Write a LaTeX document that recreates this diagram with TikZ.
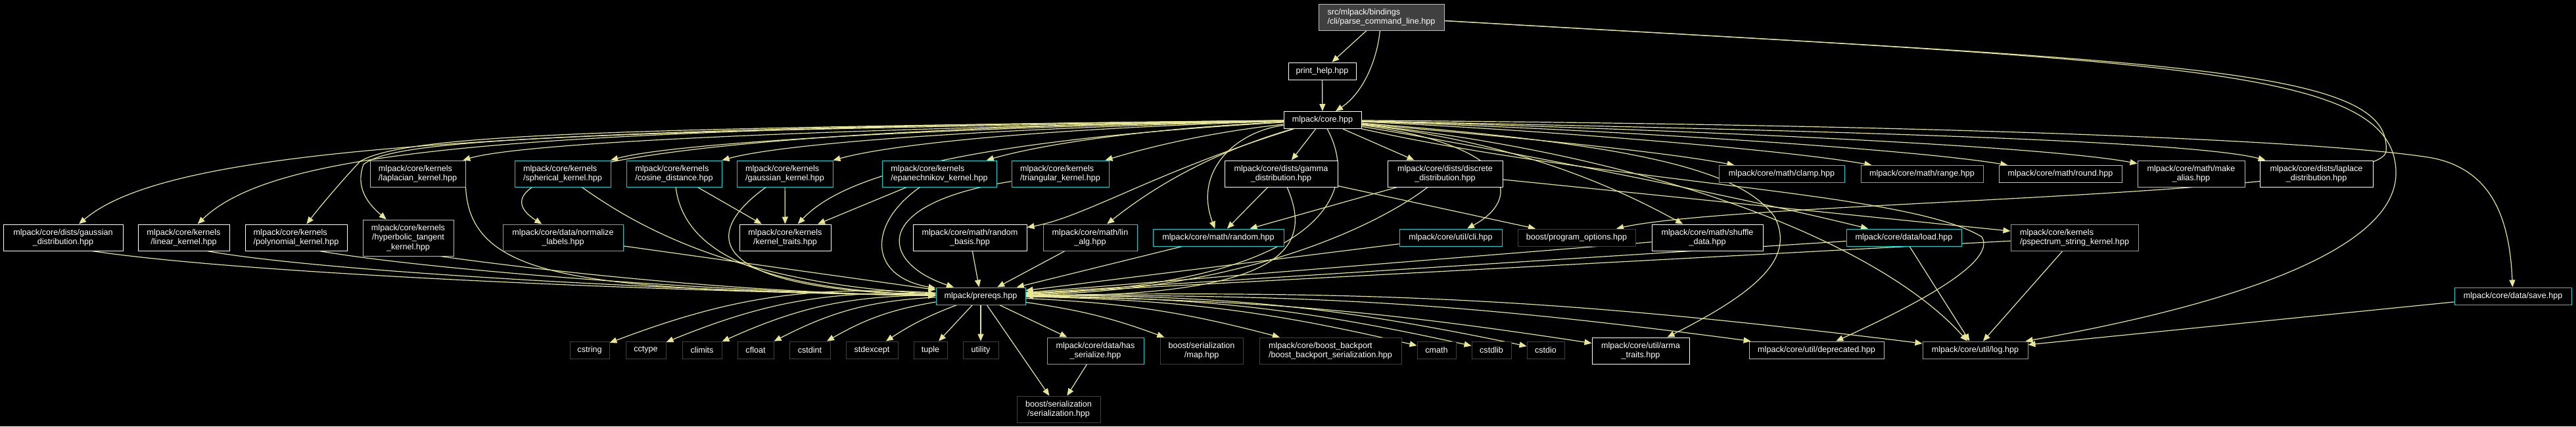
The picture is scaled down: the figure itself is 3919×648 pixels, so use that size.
\documentclass[tikz,border=0pt]{standalone}
\usepackage{fontspec}
\setmainfont{Liberation Sans}
\usepackage{tikz}
\usetikzlibrary{arrows.meta}
\definecolor{edgecol}{RGB}{230,230,150}
\definecolor{bcyan}{RGB}{0,215,215}
\definecolor{bgray}{RGB}{191,191,191}
\definecolor{bdark}{RGB}{64,64,64}
\pgfdeclarelayer{bg}\pgfdeclarelayer{edges}\pgfsetlayers{bg,edges,main}

\begin{document}
\begin{tikzpicture}[x=0.5pt,y=-0.5pt,>={Triangle[length=5.5pt,width=4.5pt]},
 box/.style={draw=white,fill=black,text=white,line width=0.5pt,inner sep=0pt,align=center,font=\fontsize{6.3}{7.25}\selectfont},
 wh/.style 2 args={minimum width=#1*0.5pt,minimum height=#2*0.5pt},
 gbox/.style={box,draw=bgray}, cbox/.style={box,draw=bcyan}, xbox/.style={box,draw=bdark},
 dep/.style={->,draw=edgecol,line width=0.6pt}]
\begin{pgfonlayer}{bg}
\fill[black] (0,0) rectangle (3919,648);
\end{pgfonlayer}
\useasboundingbox (0,0) rectangle (3919,648);
% top
\node[gbox,fill=bdark,wh={191}{40},align=left] (pcl) at (2101.5,26) {src/mlpack/bindings\\/cli/parse\_command\_line.hpp};
\node[box,wh={103}{26}] (phelp) at (2011.5,108) {print\_help.hpp};
\node[box,wh={118}{26}] (core) at (2012,182.5) {mlpack/core.hpp};
% row 4
\node[gbox,wh={145}{40},align=left] (lap) at (635.5,264) {mlpack/core/kernels\\/laplacian\_kernel.hpp};
\node[cbox,wh={146}{40},align=left] (sph) at (856,264) {mlpack/core/kernels\\/spherical\_kernel.hpp};
\node[cbox,wh={145}{40},align=left] (cos) at (1025.5,264) {mlpack/core/kernels\\/cosine\_distance.hpp};
\node[cbox,wh={146}{40},align=left] (gker) at (1194,264) {mlpack/core/kernels\\/gaussian\_kernel.hpp};
\node[cbox,wh={174}{40},align=left] (epa) at (1429,264) {mlpack/core/kernels\\/epanechnikov\_kernel.hpp};
\node[cbox,wh={148}{40},align=left] (tri) at (1613,264) {mlpack/core/kernels\\/triangular\_kernel.hpp};
\node[box,wh={172}{40}] (gam) at (1949,264) {mlpack/core/dists/gamma\\\_distribution.hpp};
\node[box,wh={175}{40}] (dis) at (2198.5,264) {mlpack/core/dists/discrete\\\_distribution.hpp};
\node[cbox,wh={191}{26}] (clamp) at (2710.5,264.5) {mlpack/core/math/clamp.hpp};
\node[cbox,wh={186}{26}] (range) at (2924,264.5) {mlpack/core/math/range.hpp};
\node[gbox,wh={187}{26}] (round) at (3134.5,264.5) {mlpack/core/math/round.hpp};
\node[gbox,wh={163}{40}] (alias) at (3333.5,264) {mlpack/core/math/make\\\_alias.hpp};
\node[box,wh={172}{40}] (lapd) at (3524,264) {mlpack/core/dists/laplace\\\_distribution.hpp};
% row 5
\node[box,wh={182}{40}] (gdist) at (96,361) {mlpack/core/dists/gaussian\\\_distribution.hpp};
\node[box,wh={139}{40}] (lin) at (279.5,361) {mlpack/core/kernels\\/linear\_kernel.hpp};
\node[box,wh={155}{40},align=left] (poly) at (450.5,361) {mlpack/core/kernels\\/polynomial\_kernel.hpp};
\node[gbox,wh={138}{55}] (hyp) at (621,361.5) {mlpack/core/kernels\\/hyperbolic\_tangent\\\_kernel.hpp};
\node[cbox,wh={183}{40}] (norm) at (856.5,361) {mlpack/core/data/normalize\\\_labels.hpp};
\node[box,wh={139}{40}] (ktr) at (1194.5,361) {mlpack/core/kernels\\/kernel\_traits.hpp};
\node[box,wh={173}{40}] (rbas) at (1475.5,361) {mlpack/core/math/random\\\_basis.hpp};
\node[cbox,wh={143}{40}] (linalg) at (1658.5,361) {mlpack/core/math/lin\\\_alg.hpp};
\node[cbox,wh={199}{26}] (rand) at (1853.5,361) {mlpack/core/math/random.hpp};
\node[cbox,wh={156}{26}] (cli) at (2207,361) {mlpack/core/util/cli.hpp};
\node[xbox,wh={179}{26}] (popt) at (2398.5,361) {boost/program\_options.hpp};
\node[box,wh={169}{40}] (shuf) at (2597.5,361) {mlpack/core/math/shuffle\\\_data.hpp};
\node[cbox,wh={175}{26}] (load) at (2896.5,361) {mlpack/core/data/load.hpp};
\node[cbox,wh={194}{40},align=left] (psp) at (3156,361) {mlpack/core/kernels\\/pspectrum\_string\_kernel.hpp};
% row 6
\node[cbox,wh={136}{26}] (prq) at (1492,450) {mlpack/prereqs.hpp};
\node[cbox,wh={178}{26}] (save) at (3823,450) {mlpack/core/data/save.hpp};
% row 7
\node[xbox,wh={60}{26}] (cstring) at (897,532) {cstring};
\node[xbox,wh={61}{26}] (cctype) at (982.5,532) {cctype};
\node[xbox,wh={60}{26}] (climits) at (1068,532) {climits};
\node[xbox,wh={55}{26}] (cfloat) at (1149.5,532) {cfloat};
\node[xbox,wh={62}{26}] (cstdint) at (1232,532) {cstdint};
\node[xbox,wh={79}{26}] (stdexc) at (1326.5,532) {stdexcept};
\node[xbox,wh={51}{26}] (tuple) at (1415.5,532) {tuple};
\node[xbox,wh={54}{26}] (utility) at (1492,532) {utility};
\node[cbox,wh={147}{40}] (hser) at (1666.5,533) {mlpack/core/data/has\\\_serialize.hpp};
\node[xbox,wh={126}{40}] (map) at (1828,533) {boost/serialization\\/map.hpp};
\node[xbox,wh={216}{40},align=left] (bbp) at (2024,533) {mlpack/core/boost\_backport\\/boost\_backport\_serialization.hpp};
\node[xbox,wh={59}{26}] (cmath) at (2185.5,532) {cmath};
\node[xbox,wh={60}{26}] (cstdlib) at (2269,532) {cstdlib};
\node[xbox,wh={57}{26}] (cstdio) at (2351.5,532) {cstdio};
\node[box,wh={148}{40}] (arma) at (2496,533) {mlpack/core/util/arma\\\_traits.hpp};
\node[gbox,wh={205}{26}] (depr) at (2763.5,532) {mlpack/core/util/deprecated.hpp};
\node[cbox,wh={160}{26}] (log) at (3005,532) {mlpack/core/util/log.hpp};
\node[xbox,wh={127}{40}] (ser) at (1610.5,622) {boost/serialization\\/serialization.hpp};
\begin{pgfonlayer}{edges}
% edges from the top file
\draw[dep] (pcl)--(phelp);\draw[dep] (phelp)--(core);
\draw[dep] (pcl) .. controls (2095,90) and (2075,140) .. (core);
\draw[dep] (pcl) .. controls (3300,95) and (3640,100) .. (3630,230) .. controls (3625,300) and (2650,305) .. (popt);
\draw[dep] (pcl) .. controls (3300,95) and (3640,100) .. (3645,260) .. controls (3650,400) and (3300,480) .. (log);
% core fan, left
\draw[dep] (core) .. controls (700,195) and (250,230) .. (gdist);
\draw[dep] (core) .. controls (800,195) and (420,225) .. (lin);
\draw[dep] (core) .. controls (900,195) and (620,205) .. (548,245) .. controls (520,275) and (490,310) .. (poly);
\draw[dep] (core) .. controls (900,200) and (600,210) .. (553,250) .. controls (540,285) and (560,310) .. (hyp);
\draw[dep] (core) .. controls (780,200) and (745,290) .. (norm);
\draw[dep] (core) .. controls (1300,195) and (800,215) .. (lap);
\draw[dep] (core) .. controls (1400,195) and (1020,218) .. (sph);
\draw[dep] (core) .. controls (1500,195) and (1190,218) .. (cos);
\draw[dep] (core) .. controls (1600,195) and (1360,218) .. (gker);
\draw[dep] (core) .. controls (1750,195) and (1590,218) .. (epa);
\draw[dep] (core) .. controls (1850,200) and (1760,220) .. (tri);
\draw[dep] (core) .. controls (1450,215) and (1280,270) .. (ktr);
\draw[dep] (core) .. controls (1760,260) and (1650,330) .. (rbas);
\draw[dep] (core) .. controls (1850,230) and (1760,280) .. (linalg);
\draw[dep] (core) .. controls (1880,200) and (1815,260) .. (rand);
\draw[dep] (core)--(gam);\draw[dep] (core)--(dis);
\draw[dep] (core) .. controls (2075,300) and (2000,430) .. (prq);
% core fan, right
\draw[dep] (core) .. controls (2200,200) and (2500,225) .. (clamp);
\draw[dep] (core) .. controls (2300,195) and (2700,225) .. (range);
\draw[dep] (core) .. controls (2400,195) and (2900,225) .. (round);
\draw[dep] (core) .. controls (2500,195) and (3100,220) .. (alias);
\draw[dep] (core) .. controls (2600,195) and (3320,210) .. (lapd);
\draw[dep] (core) .. controls (2300,220) and (2320,300) .. (cli);
\draw[dep] (core) .. controls (2300,215) and (2450,280) .. (shuf);
\draw[dep] (core) .. controls (2300,230) and (2650,300) .. (load);
\draw[dep] (core) .. controls (3000,190) and (3550,215) .. (3700,240) .. controls (3790,258) and (3818,330) .. (save);
\draw[dep] (core) .. controls (2550,240) and (2870,380) .. (log);
\draw[dep] (core) .. controls (2450,280) and (2900,290) .. (3015,360) .. controls (3040,400) and (2900,470) .. (depr);
\draw[dep] (core) .. controls (2500,220) and (2650,260) .. (2700,330) .. controls (2730,390) and (2680,440) .. (arma);
% middle rows
\draw[dep] (cos)--(ktr);\draw[dep] (gker)--(ktr);\draw[dep] (epa)--(ktr);
\draw[dep] (gam)--(rand);\draw[dep] (dis)--(rand);
\draw[dep] (gam)--(popt);\draw[dep] (dis)--(psp);
% into prereqs
\draw[dep] (gdist.-25) .. controls (400,420) and (1100,445) .. (prq);
\draw[dep] (lin.-30) .. controls (500,415) and (1100,445) .. (prq);
\draw[dep] (poly.-30) .. controls (650,410) and (1100,445) .. (prq);
\draw[dep] (hyp.-30) .. controls (780,405) and (1100,445) .. (prq);
\draw[dep] (lap.south east) .. controls (715,430) and (900,440) .. (prq);
\draw[dep] (sph) .. controls (950,330) and (1100,430) .. (prq);
\draw[dep] (cos) .. controls (1040,380) and (1150,440) .. (prq);
\draw[dep] (gker) .. controls (1060,360) and (1080,440) .. (prq);
\draw[dep] (epa) .. controls (1320,340) and (1320,420) .. (prq);
\draw[dep] (tri) .. controls (1320,310) and (1340,400) .. (prq);
\draw[dep] (norm)--(prq);\draw[dep] (rbas)--(prq);\draw[dep] (linalg)--(prq);\draw[dep] (rand)--(prq);
\draw[dep] (gam) .. controls (2000,380) and (1950,450) .. (prq);
\draw[dep] (dis) .. controls (2100,340) and (1900,440) .. (prq);
\draw[dep] (cli)--(prq);\draw[dep] (shuf)--(prq);\draw[dep] (load)--(prq);\draw[dep] (psp)--(prq);
% prereqs out
\draw[dep] (prq) to[bend right=12] (cstring);\draw[dep] (prq) to[bend right=12] (cctype);
\draw[dep] (prq) to[bend right=12] (climits);\draw[dep] (prq) to[bend right=12] (cfloat);
\draw[dep] (prq) to[bend right=10] (cstdint);\draw[dep] (prq) to[bend right=6] (stdexc);
\draw[dep] (prq)--(tuple);\draw[dep] (prq)--(utility);
\draw[dep] (prq)--(ser);\draw[dep] (prq)--(hser);\draw[dep] (hser)--(ser);
\draw[dep] (prq) to[bend left=6] (map);\draw[dep] (prq) to[bend left=6] (bbp);
\draw[dep] (prq) to[bend left=6] (cmath);\draw[dep] (prq) to[bend left=6] (cstdlib);
\draw[dep] (prq) to[bend left=6] (cstdio);\draw[dep] (prq) to[bend left=4] (arma);
\draw[dep] (prq) to[bend left=4] (depr);\draw[dep] (prq) to[bend left=4] (log);
\draw[dep] (load)--(log);\draw[dep] (psp)--(log);\draw[dep] (save)--(log);
\end{pgfonlayer}
\end{tikzpicture}
\end{document}
